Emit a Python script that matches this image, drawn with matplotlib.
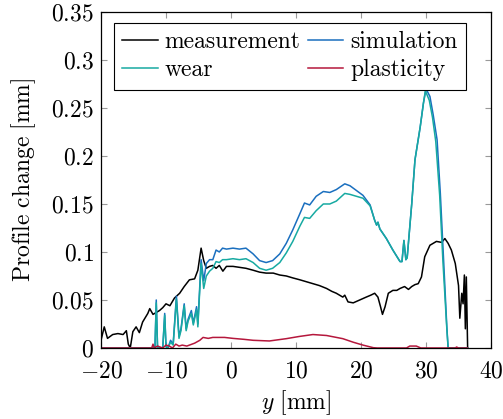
import matplotlib
matplotlib.use('Agg')
import matplotlib.pyplot as plt
from matplotlib.ticker import MultipleLocator, FuncFormatter

plt.rcParams['font.family'] = 'cmr10'
plt.rcParams['mathtext.fontset'] = 'cm'
plt.rcParams['axes.unicode_minus'] = False
plt.rcParams['font.size'] = 17

# measurement (black)
meas_x = [-20, -19.5, -19, -18.2, -17.4, -16.6, -16.1, -15.8, -15.5, -15.1, -14.6, -14.1,
          -13.6, -12.8, -12.5, -12, -11, -10.5, -10, -9.4, -8.7, -7.9, -7.2, -6.4, -5.6,
          -5.1, -4.6, -4.2, -3.8, -3.3, -2.8, -2.3, -1.8, -1.25, -0.7, 0.3, 1.3, 2.3, 3.4,
          4.4, 5.4, 6.5, 7.5, 8.5, 9.5, 10.6, 11.6, 12.6, 13.6, 14.7, 15.5, 16.2, 17.2,
          17.5, 18, 18.8, 19.8, 20.8, 21.5, 22.1, 22.6, 23, 23.3, 23.7, 24.2, 24.9, 25.5,
          26, 26.7, 27.3, 27.8, 28.3, 28.8, 29.3, 29.8, 30.6, 31.6, 32.4, 32.9, 33.4, 33.9,
          34.5, 35, 35.2, 35.5, 35.7, 35.9, 36.05, 36.2, 36.4]
meas_v = [0.008, 0.022, 0.010, 0.014, 0.015, 0.014, 0.018, 0.004, 0.0, 0.017, 0.022, 0.016,
          0.027, 0.036, 0.041, 0.035, 0.039, 0.042, 0.046, 0.044, 0.052, 0.057, 0.064, 0.071,
          0.072, 0.081, 0.104, 0.091, 0.083, 0.085, 0.086, 0.083, 0.086, 0.080, 0.085, 0.085,
          0.084, 0.083, 0.081, 0.079, 0.078, 0.078, 0.076, 0.075, 0.073, 0.071, 0.069, 0.067,
          0.065, 0.062, 0.059, 0.057, 0.053, 0.055, 0.048, 0.047, 0.050, 0.053, 0.055, 0.057,
          0.053, 0.043, 0.035, 0.043, 0.057, 0.060, 0.060, 0.062, 0.064, 0.061, 0.064, 0.066,
          0.067, 0.074, 0.095, 0.107, 0.111, 0.110, 0.114, 0.109, 0.102, 0.088, 0.065, 0.031,
          0.057, 0.046, 0.076, 0.020, 0.074, 0.0]

# simulation (blue)
sim_x = [-20, -11.7, -11.5, -11.3, -10.5, -10.2, -10.0, -9.7, -9.3, -8.9, -8.4, -8.0, -7.7,
         -7.2, -6.9, -6.6, -6.1, -5.8, -5.3, -5.1, -4.6, -4.2, -3.8, -3.3, -2.8, -2.3, -1.8,
         -1.3, -0.7, 0.3, 1.3, 2.3, 3.4, 4.4, 5.4, 6.4, 7.5, 8.5, 9.5, 10.6, 11.3, 12.1, 13.1,
         14.2, 15.2, 16.2, 17.5, 18.3, 19.3, 20.3, 21.4, 22.1, 22.4, 22.6, 22.9, 23.9, 24.9,
         26.0, 26.3, 26.6, 26.9, 27.1, 27.8, 28.3, 29.1, 29.6, 30.0, 30.6, 31.1, 31.7, 32.2,
         32.7, 33.2, 33.4, 36.4]
sim_v = [0, 0, 0.050, 0.0, 0.0, 0.036, 0.002, 0.0, 0.008, 0.004, 0.054, 0.012, 0.020,
         0.046, 0.020, 0.030, 0.039, 0.026, 0.043, 0.025, 0.092, 0.070, 0.088, 0.092, 0.092,
         0.102, 0.100, 0.104, 0.103, 0.104, 0.103, 0.104, 0.098, 0.091, 0.089, 0.091, 0.098,
         0.109, 0.123, 0.140, 0.151, 0.149, 0.158, 0.163, 0.162, 0.165, 0.171, 0.169, 0.164,
         0.159, 0.149, 0.133, 0.128, 0.131, 0.124, 0.114, 0.102, 0.090, 0.090, 0.112, 0.092,
         0.094, 0.150, 0.196, 0.230, 0.255, 0.270, 0.262, 0.243, 0.217, 0.161, 0.092, 0.022,
         0.0, 0.0]

# wear (teal)
wear_x = [-20, -11.7, -11.5, -11.3, -10.5, -10.2, -10.0, -9.7, -9.3, -8.9, -8.4, -8.0, -7.7,
          -7.2, -6.9, -6.6, -6.1, -5.8, -5.3, -5.1, -4.6, -4.2, -3.8, -3.3, -2.8, -2.3, -1.8,
          -1.3, -0.7, 0.3, 1.3, 2.3, 3.4, 4.4, 5.4, 6.4, 7.5, 8.5, 9.5, 10.6, 11.3, 12.1, 13.1,
          14.2, 15.2, 16.2, 17.5, 18.3, 19.3, 20.3, 21.4, 22.1, 22.4, 22.6, 22.9, 23.9, 24.9,
          26.0, 26.3, 26.6, 26.9, 27.1, 27.8, 28.3, 29.1, 29.6, 29.9, 30.5, 31.0, 31.5, 32.1,
          32.6, 33.2, 33.4, 36.4]
wear_v = [0, 0, 0.047, 0.0, 0.0, 0.034, 0.001, 0.0, 0.006, 0.003, 0.051, 0.010, 0.018,
          0.044, 0.018, 0.028, 0.036, 0.024, 0.040, 0.022, 0.088, 0.062, 0.075, 0.080, 0.083,
          0.090, 0.089, 0.092, 0.092, 0.093, 0.092, 0.093, 0.089, 0.083, 0.081, 0.083, 0.089,
          0.099, 0.111, 0.127, 0.136, 0.135, 0.143, 0.150, 0.150, 0.153, 0.161, 0.160, 0.158,
          0.156, 0.148, 0.133, 0.128, 0.131, 0.124, 0.114, 0.102, 0.090, 0.090, 0.112, 0.092,
          0.094, 0.150, 0.196, 0.230, 0.255, 0.268, 0.258, 0.240, 0.215, 0.159, 0.090, 0.020,
          0.0, 0.0]

# plasticity (red)
plast_x = [-20, -12.2, -12, -11.8, -11.3, -10.5, -10, -9.5, -9, -8.5, -8, -7.5, -6.8, -6,
           -5.6, -4.8, -4.3, -3.5, -2.8, -1, 0.3, 2, 3.4, 5.9, 8.5, 10.5, 12.6, 14.7, 17.2,
           18.8, 20.3, 21.9, 22.5, 27.0, 27.5, 28.5, 29.2, 34.5, 34.7, 35, 36.4]
plast_v = [0, 0, 0.004, 0.0, 0.002, 0.0, 0.003, 0.002, 0.0, 0.004, 0.002, 0.003, 0.002,
           0.004, 0.005, 0.008, 0.011, 0.010, 0.011, 0.011, 0.010, 0.009, 0.008, 0.0073,
           0.0097, 0.012, 0.014, 0.013, 0.0097, 0.006, 0.003, 0.0003, 0, 0.0, 0.002, 0.002,
           0.0, 0.0, 0.001, 0, 0]

fig = plt.figure(figsize=(5.03, 4.19), dpi=100)
ax = fig.add_axes([0.2008, 0.1695, 0.7754, 0.8019])

lw = 1.1
l1, = ax.plot(meas_x, meas_v, color='black', lw=lw, label='measurement')
l2, = ax.plot(sim_x, sim_v, color='#1a6fbf', lw=lw, label='simulation')
l3, = ax.plot(wear_x, wear_v, color='#17aaa2', lw=lw, label='wear')
l4, = ax.plot(plast_x, plast_v, color='#b5173c', lw=lw, label='plasticity')

ax.set_xlim(-20, 40)
ax.set_ylim(0, 0.35)
ax.xaxis.set_major_locator(MultipleLocator(10))
ax.yaxis.set_major_locator(MultipleLocator(0.05))
fmt = FuncFormatter(lambda v, p: '$%g$' % round(v, 4))
ax.xaxis.set_major_formatter(fmt)
ax.yaxis.set_major_formatter(fmt)
ax.tick_params(direction='in', length=4.5, width=0.8, color='#999999',
               top=True, right=True, labelsize=17)
ax.tick_params(axis='x', pad=9)
ax.tick_params(axis='y', pad=5)
for s in ax.spines.values():
    s.set_linewidth(0.9)

ax.set_xlabel(r'$y\ \mathrm{[mm]}$', fontsize=17, labelpad=4)
ax.set_ylabel(r'$\mathrm{Profile\ change\ [mm]}$', fontsize=17, labelpad=10)

leg = ax.legend(handles=[l1, l3, l2, l4], ncol=2, loc='upper left',
                bbox_to_anchor=(0.033, 0.967), borderaxespad=0, fancybox=False,
                framealpha=1, edgecolor='black', fontsize=17, handlelength=1.5,
                handletextpad=0.3, columnspacing=0.3, borderpad=0.35, labelspacing=0.25)
leg.get_frame().set_linewidth(0.8)

fig.savefig('out.png', dpi=100)
